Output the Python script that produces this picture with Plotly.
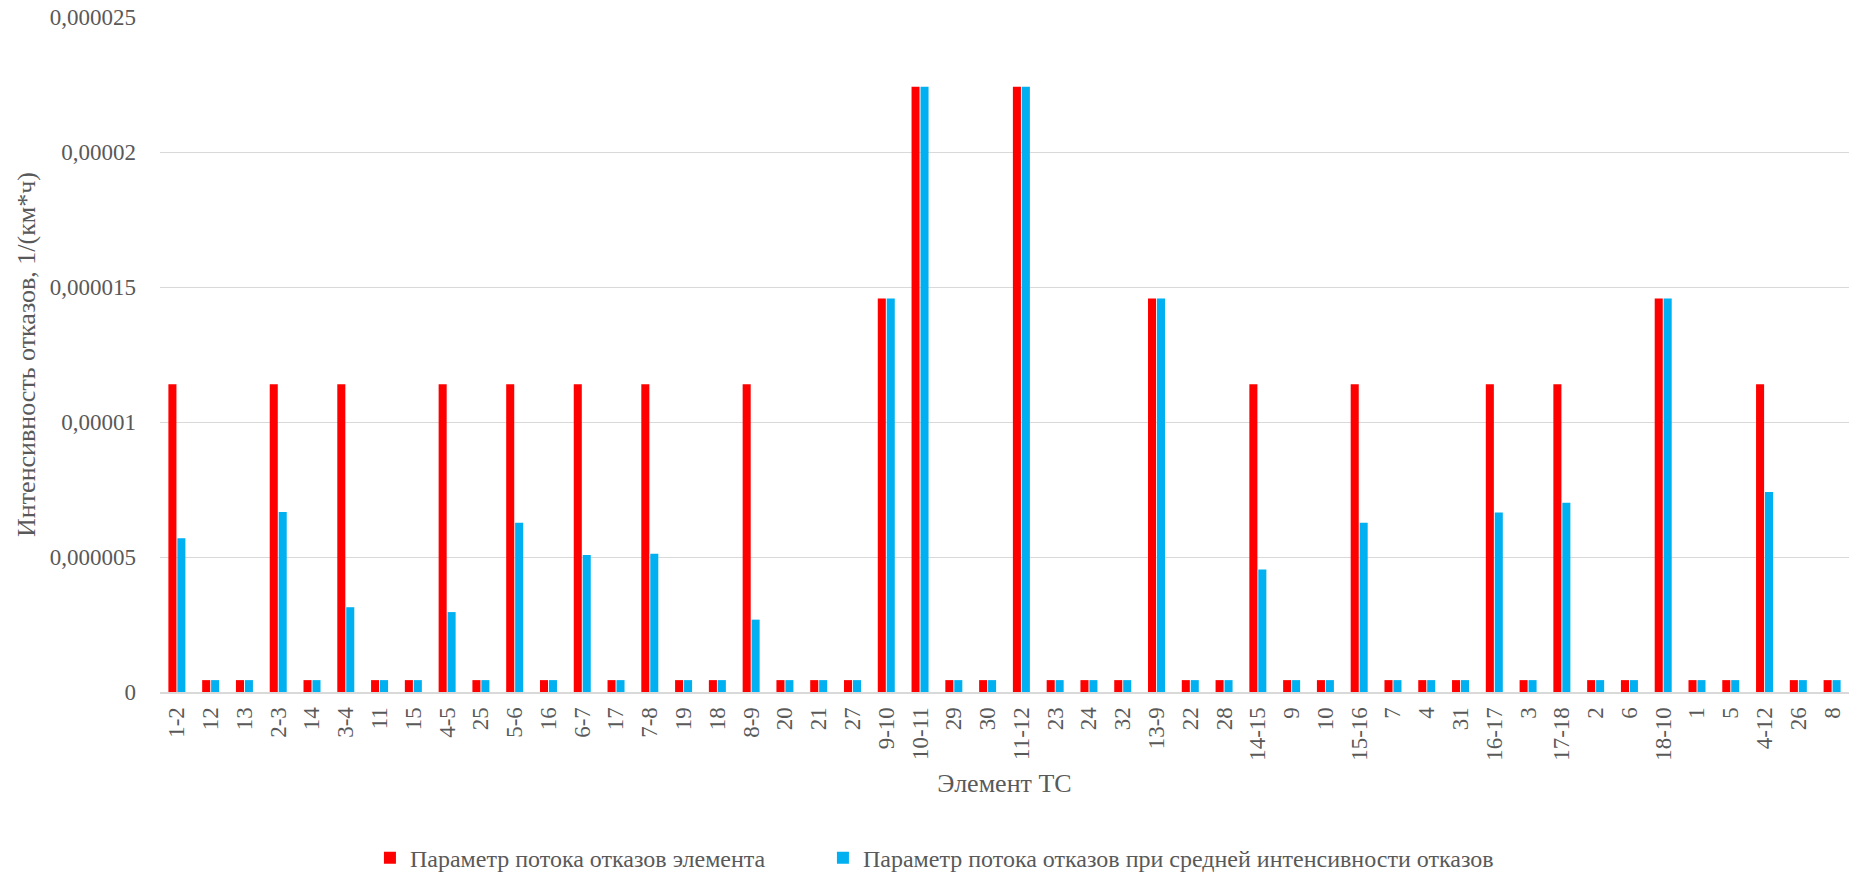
import plotly.graph_objects as go

categories = ["1-2", "12", "13", "2-3", "14", "3-4", "11", "15", "4-5", "25",
              "5-6", "16", "6-7", "17", "7-8", "19", "18", "8-9", "20", "21",
              "27", "9-10", "10-11", "29", "30", "11-12", "23", "24", "32", "13-9",
              "22", "28", "14-15", "9", "10", "15-16", "7", "4", "31", "16-17",
              "3", "17-18", "2", "6", "18-10", "1", "5", "4-12", "26", "8"]

S = 0.00000044
T = 0.0000114
M = 0.00001457
H = 0.00002242

element_flow = [T, S, S, T, S, T, S, S, T, S,
                T, S, T, S, T, S, S, T, S, S,
                S, M, H, S, S, H, S, S, S, M,
                S, S, T, S, S, T, S, S, S, T,
                S, T, S, S, M, S, S, T, S, S]

avg_flow = [0.00000569, S, S, 0.00000667, S, 0.00000314, S, S, 0.00000296, S,
            0.00000627, S, 0.00000507, S, 0.00000512, S, S, 0.00000268, S, S,
            S, M, H, S, S, H, S, S, S, M,
            S, S, 0.00000454, S, S, 0.00000627, S, S, S, 0.00000665,
            S, 0.00000701, S, S, M, S, S, 0.00000741, S, S]

ytick_vals = [0, 0.000005, 0.00001, 0.000015, 0.00002, 0.000025]
ytick_text = ["0", "0,000005", "0,00001", "0,000015", "0,00002", "0,000025"]

series_names = ["Параметр потока отказов элемента",
                "Параметр потока отказов при средней интенсивности отказов"]

FONT = "Liberation Serif"
GREY = "#595959"

fig = go.Figure()
fig.add_trace(go.Bar(x=categories, y=element_flow, name=series_names[0],
                     legend="legend", showlegend=True,
                     marker=dict(color="#FF0000", line=dict(width=0))))
fig.add_trace(go.Bar(x=categories, y=avg_flow, name=series_names[1],
                     legend="legend2", showlegend=True,
                     marker=dict(color="#00B0F0", line=dict(width=0))))

legend_common = dict(orientation="h", y=-0.246, yanchor="middle", xanchor="left",
                     font=dict(family=FONT, size=24, color=GREY), itemwidth=30,
                     bgcolor="rgba(0,0,0,0)", visible=True)

fig.update_layout(
    width=1854, height=872, showlegend=True,
    barmode="group", bargap=0.47, bargroupgap=0.1,
    plot_bgcolor="white", paper_bgcolor="white",
    margin=dict(l=160, r=5, t=17, b=180, autoexpand=False),
    font=dict(family=FONT, size=23, color=GREY),
    legend=dict(x=0.1243, **legend_common),
    legend2=dict(x=0.3925, **legend_common),
    xaxis=dict(tickangle=-90, ticks="", showgrid=False, showline=True,
               linecolor="#d9d9d9", linewidth=2, ticklabelstandoff=4,
               tickfont=dict(family=FONT, size=23, color=GREY),
               title=dict(text="Элемент ТС", standoff=14,
                          font=dict(family=FONT, size=26, color=GREY))),
    yaxis=dict(range=[0, 0.000025], tickvals=ytick_vals, ticktext=ytick_text,
               showgrid=True, gridcolor="#d9d9d9", gridwidth=1, zeroline=False,
               ticks="", ticklabelstandoff=23,
               tickfont=dict(family=FONT, size=23, color=GREY),
               title=dict(text="Интенсивность отказов, 1/(км*ч)", standoff=6,
                          font=dict(family=FONT, size=26, color=GREY))),
)

fig.write_html("out.html", config={"displayModeBar": False},
               post_script="document.body.style.margin='0';document.body.style.overflow='hidden';")
